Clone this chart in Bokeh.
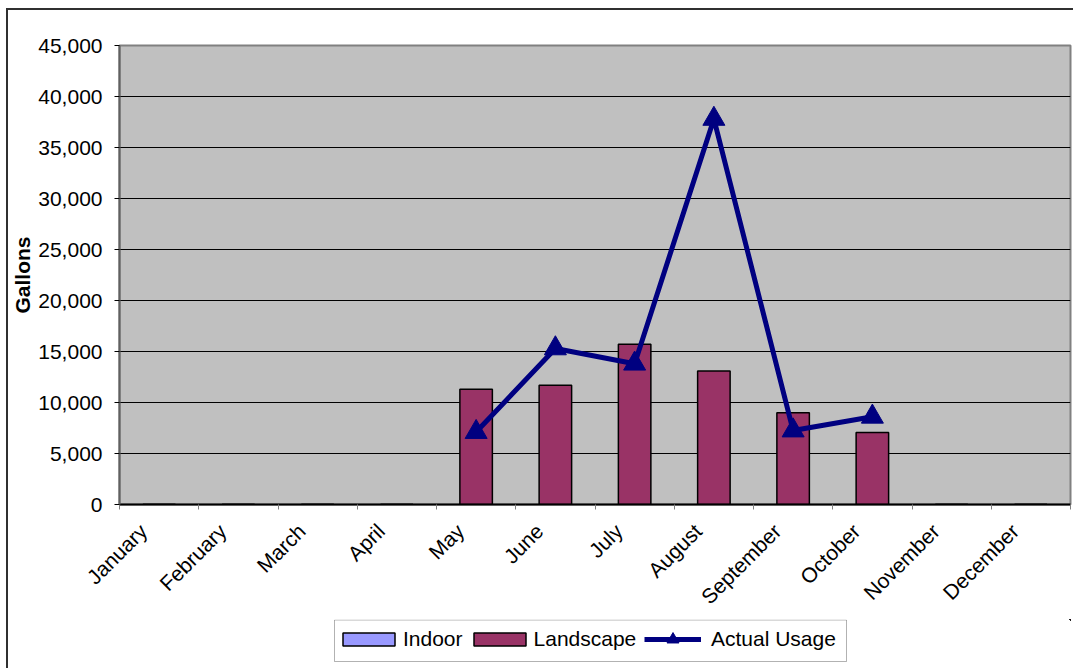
import math

from bokeh.plotting import figure
from bokeh.layouts import column
from bokeh.models import (Range1d, FixedTicker, NumeralTickFormatter, Legend,
                          LegendItem, BoxAnnotation)
from bokeh.embed import file_html
from bokeh.resources import INLINE

# ---- data -------------------------------------------------------------
months = ["January", "February", "March", "April", "May", "June", "July",
          "August", "September", "October", "November", "December"]
indoor = [0, 0, 0, 0, 0, 0, 0, 0, 0, 0, 0, 0]
landscape = [0, 0, 0, 0, 11300, 11700, 15700, 13100, 9000, 7050, 0, 0]
usage_months = ["May", "June", "July", "August", "September", "October"]
actual_usage = [7100, 15300, 13800, 37800, 7250, 8600]
y_ticks = [0, 5000, 10000, 15000, 20000, 25000, 30000, 35000, 40000, 45000]

# month slots: centre of each slot holds the bar, edges carry the tick marks;
# labels sit a little left of centre so their upper end meets the slot centre
centers = [i + 0.5 for i in range(len(months))]
label_pos = [c - 0.2 for c in centers]
edges = list(range(len(months) + 1))
usage_x = [months.index(m) + 0.5 for m in usage_months]
landscape_top = [a + b for a, b in zip(indoor, landscape)]

FONT = "Liberation Sans"
INDOOR_COLOR = "#9999FF"
LANDSCAPE_COLOR = "#993366"
USAGE_COLOR = "#000080"
BORDER_L, BORDER_R = 110, 5

p = figure(width=1067, height=609, output_backend="svg", toolbar_location=None,
           x_range=Range1d(0, len(months)), y_range=Range1d(0, 45000),
           min_border_left=BORDER_L, min_border_right=BORDER_R,
           min_border_top=35, min_border_bottom=115,
           background_fill_color="#C0C0C0", border_fill_color="white")

p.outline_line_color = "#808080"
p.outline_line_width = 2

# ---- axes -------------------------------------------------------------
xa = p.xaxis[0]
xa.ticker = FixedTicker(ticks=label_pos, minor_ticks=edges)
xa.major_label_overrides = {c: m for c, m in zip(label_pos, months)}
xa.major_tick_out = 0
xa.major_tick_in = 0
xa.minor_tick_out = 5
xa.minor_tick_in = 0
xa.minor_tick_line_color = "#808080"
xa.minor_tick_line_width = 1
xa.axis_line_color = "black"
xa.axis_line_width = 2
xa.major_label_orientation = math.pi / 4
xa.major_label_standoff = 18
xa.major_label_text_font = FONT
xa.major_label_text_font_size = "21px"
xa.major_label_text_color = "black"

ya = p.yaxis[0]
ya.ticker = FixedTicker(ticks=y_ticks, minor_ticks=[])
ya.formatter = NumeralTickFormatter(format="0,0")
ya.major_tick_out = 5
ya.major_tick_in = 0
ya.major_tick_line_color = "black"
ya.axis_line_color = "#606060"
ya.axis_line_width = 2
ya.major_label_standoff = 12
ya.major_label_text_font = FONT
ya.major_label_text_font_size = "21px"
ya.major_label_text_color = "black"
ya.axis_label = "Gallons"
ya.axis_label_text_font = FONT
ya.axis_label_text_font_style = "bold"
ya.axis_label_text_font_size = "21px"
ya.axis_label_text_color = "black"
ya.axis_label_standoff = 1

p.xgrid.visible = False
p.ygrid.ticker = FixedTicker(ticks=y_ticks)
p.ygrid.grid_line_color = "black"
p.ygrid.grid_line_width = 1

# ---- marks ------------------------------------------------------------
bar_style = dict(width=0.41, line_color="black", line_width=1.5)
p.vbar(x=centers, bottom=0, top=indoor, fill_color=INDOOR_COLOR, **bar_style)
p.vbar(x=centers, bottom=indoor, top=landscape_top, fill_color=LANDSCAPE_COLOR,
       **bar_style)
line_style = dict(line_color=USAGE_COLOR, line_width=5, line_join="round")
p.line(x=usage_x, y=actual_usage, **line_style)
pt_style = dict(marker="triangle", fill_color=USAGE_COLOR, line_color=USAGE_COLOR)
p.scatter(x=usage_x, y=actual_usage, size=22, **pt_style)

# ---- legend strip -----------------------------------------------------
# The strip's ranges lie away from the data, so its series stay out of view
# and only serve as legend swatches.
lg = figure(width=1067, height=51, output_backend="svg", toolbar_location=None,
            x_axis_type=None, y_axis_type=None,
            x_range=Range1d(-3, -2), y_range=Range1d(-3, -2),
            min_border_left=BORDER_L, min_border_right=BORDER_R,
            min_border_top=0, min_border_bottom=5,
            background_fill_color="white", border_fill_color="white")
lg.grid.visible = False
lg.outline_line_color = None

k_indoor = lg.vbar(x=centers, bottom=0, top=indoor, fill_color=INDOOR_COLOR,
                   **bar_style)
k_land = lg.vbar(x=centers, bottom=indoor, top=landscape_top,
                 fill_color=LANDSCAPE_COLOR, **bar_style)
k_line = lg.line(x=usage_x, y=actual_usage, **line_style)
k_pts = lg.scatter(x=usage_x, y=actual_usage, size=22, **pt_style)

# legend box
lg.add_layout(BoxAnnotation(left=215, right=727, top=45.5, bottom=4,
                            left_units="screen", right_units="screen",
                            top_units="screen", bottom_units="screen",
                            fill_color="white", fill_alpha=1,
                            line_color="black", line_width=1,
                            level="underlay"))

common = dict(orientation="horizontal", border_line_color=None,
              background_fill_alpha=0, label_text_font=FONT,
              label_text_font_size="21px", label_text_color="black",
              padding=0, margin=0)
lg.add_layout(Legend(items=[LegendItem(label="Indoor", renderers=[k_indoor]),
                            LegendItem(label="Landscape", renderers=[k_land])],
                     location=(217, 14), glyph_width=65, glyph_height=16,
                     label_standoff=2, spacing=4, **common))
lg.add_layout(Legend(items=[LegendItem(label="Actual Usage",
                                       renderers=[k_line, k_pts])],
                     location=(525, 11), glyph_width=57, glyph_height=30,
                     label_standoff=10, **common))

chart = column(p, lg, spacing=0,
               styles={"position": "relative", "left": "8px", "top": "10px",
                       "box-shadow": "-2px -2px 0 0 #303030"})

open("out.html", "w").write(file_html(chart, INLINE))
